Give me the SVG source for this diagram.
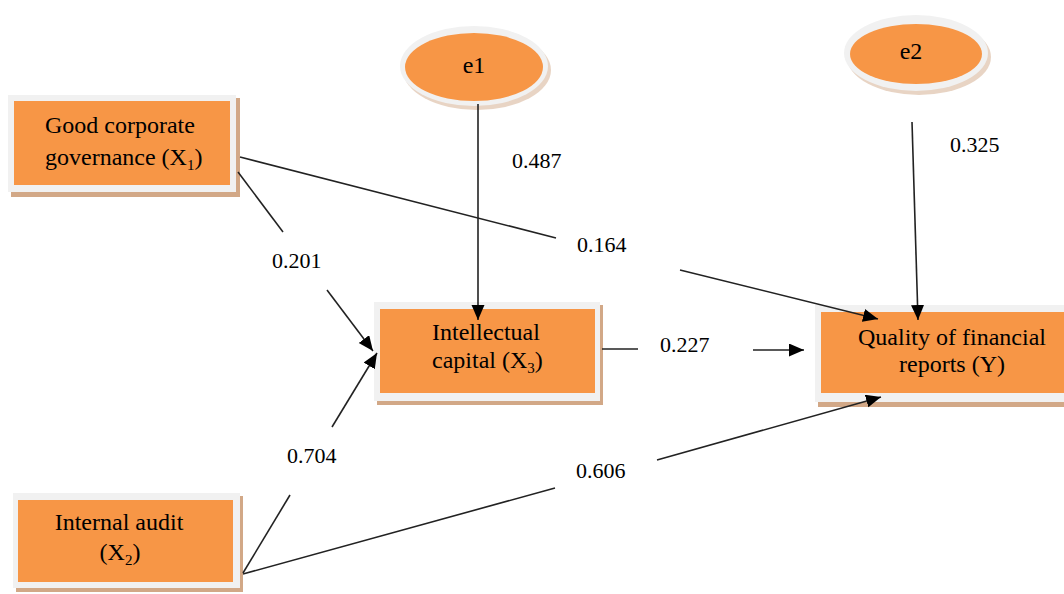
<svg xmlns="http://www.w3.org/2000/svg" width="1064" height="594" viewBox="0 0 1064 594">
<style>
.sh{fill:#d2a887}
.rim{fill:#f1f1f1}
.or{fill:#f79646}
text{font-family:'Liberation Serif','Times New Roman','DejaVu Serif',serif;fill:#000}
.t{font-size:24px}
.n{font-size:22px}
.c{stroke:#222;stroke-width:1.6;fill:none}
.a{marker-end:url(#ah)}
</style>
<defs>
<marker id="ah" markerUnits="userSpaceOnUse" markerWidth="18" markerHeight="14" refX="15" refY="6.5" orient="auto">
<path d="M0,0 L15,6.5 L0,13 Z" fill="#000"/>
</marker>
</defs>
<rect width="1064" height="594" fill="#fff"/>

<g id="X1">
<rect class="sh" x="11" y="98" width="229" height="99"/>
<rect class="rim" x="8" y="95" width="228" height="97"/>
<rect class="or" x="14" y="101" width="216" height="84"/>
<text class="t" font-family="Liberation Serif, serif" x="45" y="133">Good corporate</text>
<text class="t" font-family="Liberation Serif, serif" x="45" y="165">governance (X<tspan font-size="15" dy="5">1</tspan><tspan dy="-5">)</tspan></text>
</g>

<g id="X2">
<rect class="sh" x="16" y="496" width="227" height="96"/>
<rect class="rim" x="13" y="493" width="227" height="95"/>
<rect class="or" x="18" y="500" width="215" height="82"/>
<text class="t" font-family="Liberation Serif, serif" x="119" y="530" text-anchor="middle">Internal audit</text>
<text class="t" font-family="Liberation Serif, serif" x="120" y="560" text-anchor="middle">(X<tspan font-size="15" dy="5">2</tspan><tspan dy="-5">)</tspan></text>
</g>

<g id="X3">
<rect class="sh" x="377" y="305" width="226" height="100"/>
<rect class="rim" x="374" y="302" width="226" height="99"/>
<rect class="or" x="380" y="309" width="215" height="84"/>
<text class="t" font-family="Liberation Serif, serif" x="432" y="340">Intellectual</text>
<text class="t" font-family="Liberation Serif, serif" x="432" y="368">capital (X<tspan font-size="15" dy="5">3</tspan><tspan dy="-5">)</tspan></text>
</g>

<g id="Y">
<rect class="sh" x="818" y="308" width="260" height="99"/>
<rect class="rim" x="815" y="305" width="260" height="97"/>
<rect class="or" x="821" y="312" width="250" height="81"/>
<text class="t" font-family="Liberation Serif, serif" x="952" y="345" text-anchor="middle">Quality of financial</text>
<text class="t" font-family="Liberation Serif, serif" x="952" y="372" text-anchor="middle">reports (Y)</text>
</g>

<g id="e1">
<ellipse cx="477" cy="70" rx="74" ry="40" fill="#d9b89c" opacity="0.6"/>
<ellipse class="rim" cx="474" cy="66" rx="74" ry="40"/>
<ellipse class="or" cx="474" cy="67" rx="69" ry="34"/>
<text class="t" font-family="Liberation Serif, serif" x="474" y="73" text-anchor="middle">e1</text>
</g>

<g id="e2">
<ellipse cx="919" cy="57" rx="72" ry="38" fill="#d9b89c" opacity="0.6"/>
<ellipse class="rim" cx="916" cy="53" rx="72" ry="38"/>
<ellipse class="or" cx="916" cy="54" rx="66" ry="30"/>
<text class="t" font-family="Liberation Serif, serif" x="911" y="59" text-anchor="middle">e2</text>
</g>

<g id="connectors">
<line class="c" x1="240" y1="157" x2="556" y2="238"/>
<line class="c a" x1="680" y1="270" x2="878" y2="319"/>
<line class="c" x1="238" y1="172" x2="283" y2="232"/>
<line class="c a" x1="327" y1="290" x2="373" y2="351"/>
<line class="c" x1="243" y1="573" x2="290" y2="495"/>
<line class="c a" x1="332" y1="427" x2="377" y2="353"/>
<line class="c" x1="243" y1="574" x2="555" y2="488"/>
<line class="c a" x1="657" y1="460" x2="881" y2="397"/>
<line class="c a" x1="478" y1="104" x2="478" y2="320"/>
<line class="c a" x1="912" y1="122" x2="918" y2="320"/>
<line class="c" x1="602" y1="349" x2="638" y2="349"/>
<line class="c a" x1="753" y1="350" x2="804" y2="350"/>
</g>

<g id="labels">
<text class="n" font-family="Liberation Serif, serif" x="512" y="168">0.487</text>
<text class="n" font-family="Liberation Serif, serif" x="950" y="152">0.325</text>
<text class="n" font-family="Liberation Serif, serif" x="272" y="268">0.201</text>
<text class="n" font-family="Liberation Serif, serif" x="577" y="252">0.164</text>
<text class="n" font-family="Liberation Serif, serif" x="660" y="352">0.227</text>
<text class="n" font-family="Liberation Serif, serif" x="287" y="463">0.704</text>
<text class="n" font-family="Liberation Serif, serif" x="576" y="478">0.606</text>
</g>
</svg>
